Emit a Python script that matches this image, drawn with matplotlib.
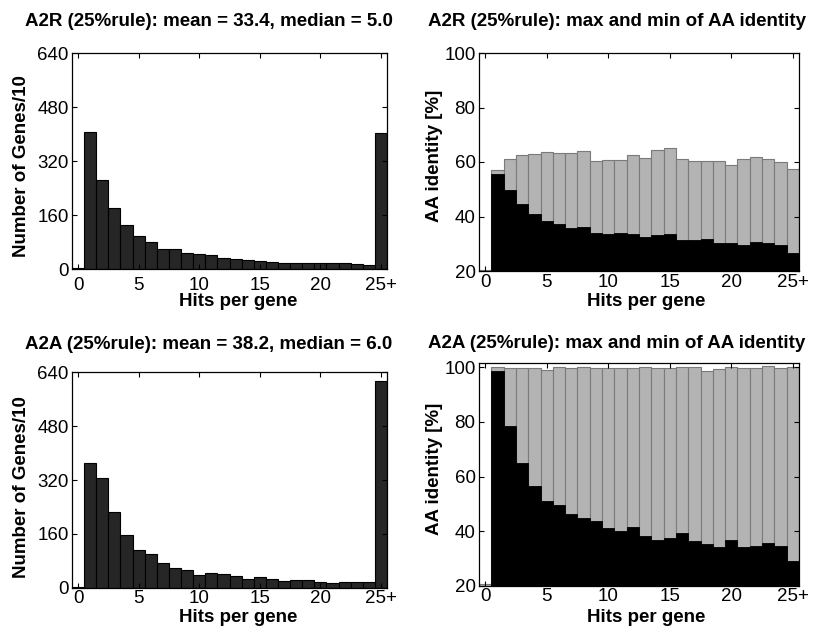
import numpy as np
import matplotlib
matplotlib.use('Agg')
import matplotlib.pyplot as plt

plt.rcParams['font.family'] = ['Liberation Sans', 'DejaVu Sans']

# Hits per gene (25 = 25+)
hits = np.arange(26)
xtick_pos = [0, 5, 10, 15, 20, 25]
xtick_labels = ['0', '5', '10', '15', '20', '25+']

# Number of genes / 10
counts_a2r = [3, 405, 264, 182, 129, 98, 80, 59, 59, 47, 45, 41, 34, 29, 26, 25,
              21, 18, 18, 17, 18, 17, 17, 15, 11, 403]
counts_a2a = [2, 371, 325, 226, 157, 113, 101, 74, 59, 54, 40, 43, 42, 36, 26, 32,
              27, 22, 23, 23, 19, 16, 19, 18, 19, 614]

# AA identity [%], max and min
max_a2r = [20.4, 57.1, 61.0, 62.5, 62.8, 63.7, 63.3, 63.3, 64.0, 60.2, 60.7, 60.7, 62.7,
           61.6, 64.3, 65.0, 61.0, 60.4, 60.4, 60.2, 59.0, 61.0, 62.0, 61.0, 60.0, 57.4]
min_a2r = [20.3, 55.6, 49.7, 44.5, 40.9, 38.2, 37.4, 35.6, 36.3, 34.1, 33.5, 33.9, 33.5,
           32.3, 33.1, 33.7, 31.4, 31.4, 31.7, 30.4, 30.1, 29.6, 30.8, 30.3, 29.7, 26.7]
max_a2a = [20.6, 99.9, 99.6, 99.6, 99.6, 99.0, 99.9, 99.6, 99.9, 99.6, 99.6, 99.6, 99.6,
           99.9, 99.6, 99.6, 99.9, 100.1, 98.6, 99.3, 99.9, 99.6, 99.6, 100.4, 99.6, 99.9]
min_a2a = [20.5, 98.6, 78.6, 64.9, 56.7, 50.9, 49.5, 46.3, 44.7, 43.7, 41.1, 40.1, 41.6,
           38.4, 36.9, 37.5, 39.4, 36.3, 35.4, 34.4, 36.9, 34.4, 34.7, 35.7, 34.7, 29.3]

titles = ['A2R (25%rule): mean = 33.4, median = 5.0',
          'A2R (25%rule): max and min of AA identity',
          'A2A (25%rule): mean = 38.2, median = 6.0',
          'A2A (25%rule): max and min of AA identity']

W, H = 813, 631
fig = plt.figure(figsize=(W / 100, H / 100), dpi=100)


def add_axes(x0, x1, y0, y1):
    # pixel box (y from top) -> figure fraction
    return fig.add_axes([x0 / W, 1 - y1 / H, (x1 - x0) / W, (y1 - y0) / H])


def style(ax, xpad):
    ax.set_xlim(-0.5, 25.5)
    ax.set_xticks(xtick_pos)
    ax.set_xticklabels(xtick_labels)
    ax.tick_params(direction='in', top=True, right=True, length=3.5, width=0.8,
                   labelsize=13.5)
    ax.tick_params(axis='x', pad=xpad)
    ax.tick_params(axis='y', pad=2.5)
    for sp in ax.spines.values():
        sp.set_linewidth(0.9)


def hist_panel(ax, counts, xpad):
    ax.bar(hits, counts, width=1.0, color='#262626', edgecolor='black', linewidth=0.8)
    ax.set_ylim(0, 640)
    ax.set_yticks([0, 160, 320, 480, 640])
    style(ax, xpad)


def ident_panel(ax, vmax, vmin, ytop, xpad):
    ax.bar(hits, np.array(vmax) - 20, bottom=20, width=1.0, color='#b3b3b3',
           edgecolor='#7a7a7a', linewidth=0.8)
    ax.bar(hits[1:], np.array(vmin[1:]) - 20, bottom=20, width=1.0, color='black',
           edgecolor='black', linewidth=0.6)
    ax.set_ylim(20, ytop)
    ax.set_yticks([20, 40, 60, 80, 100])
    style(ax, xpad)


ax1 = add_axes(72, 387, 53, 269)
hist_panel(ax1, counts_a2r, 5.5)
ax2 = add_axes(479, 799, 53, 271)
ident_panel(ax2, max_a2r, min_a2r, 100, 2.5)
ax3 = add_axes(72, 387, 372, 588)
hist_panel(ax3, counts_a2a, 1.5)
ax4 = add_axes(479, 799, 363, 586)
ident_panel(ax4, max_a2a, min_a2a, 101.5, 1.5)

bold = dict(fontsize=13.5, fontweight='bold', ha='center', va='center')

# titles
fig.text(209 / W, 1 - 22 / H, titles[0], **bold)
fig.text(617 / W, 1 - 22 / H, titles[1], **bold)
fig.text(209 / W, 1 - 344 / H, titles[2], **bold)
fig.text(617 / W, 1 - 343 / H, titles[3], **bold)

# axis labels
fig.text(22 / W, 1 - 166 / H, 'Number of Genes/10', rotation=90, **bold)
fig.text(434 / W, 1 - 156 / H, 'AA identity [%]', rotation=90, **bold)
fig.text(22 / W, 1 - 487 / H, 'Number of Genes/10', rotation=90, **bold)
fig.text(434 / W, 1 - 469 / H, 'AA identity [%]', rotation=90, **bold)

fig.text(238 / W, 1 - 302 / H, 'Hits per gene', **bold)
fig.text(646 / W, 1 - 302 / H, 'Hits per gene', **bold)
fig.text(238 / W, 1 - 618 / H, 'Hits per gene', **bold)
fig.text(646 / W, 1 - 617 / H, 'Hits per gene', **bold)

fig.savefig('out.png', dpi=100)
